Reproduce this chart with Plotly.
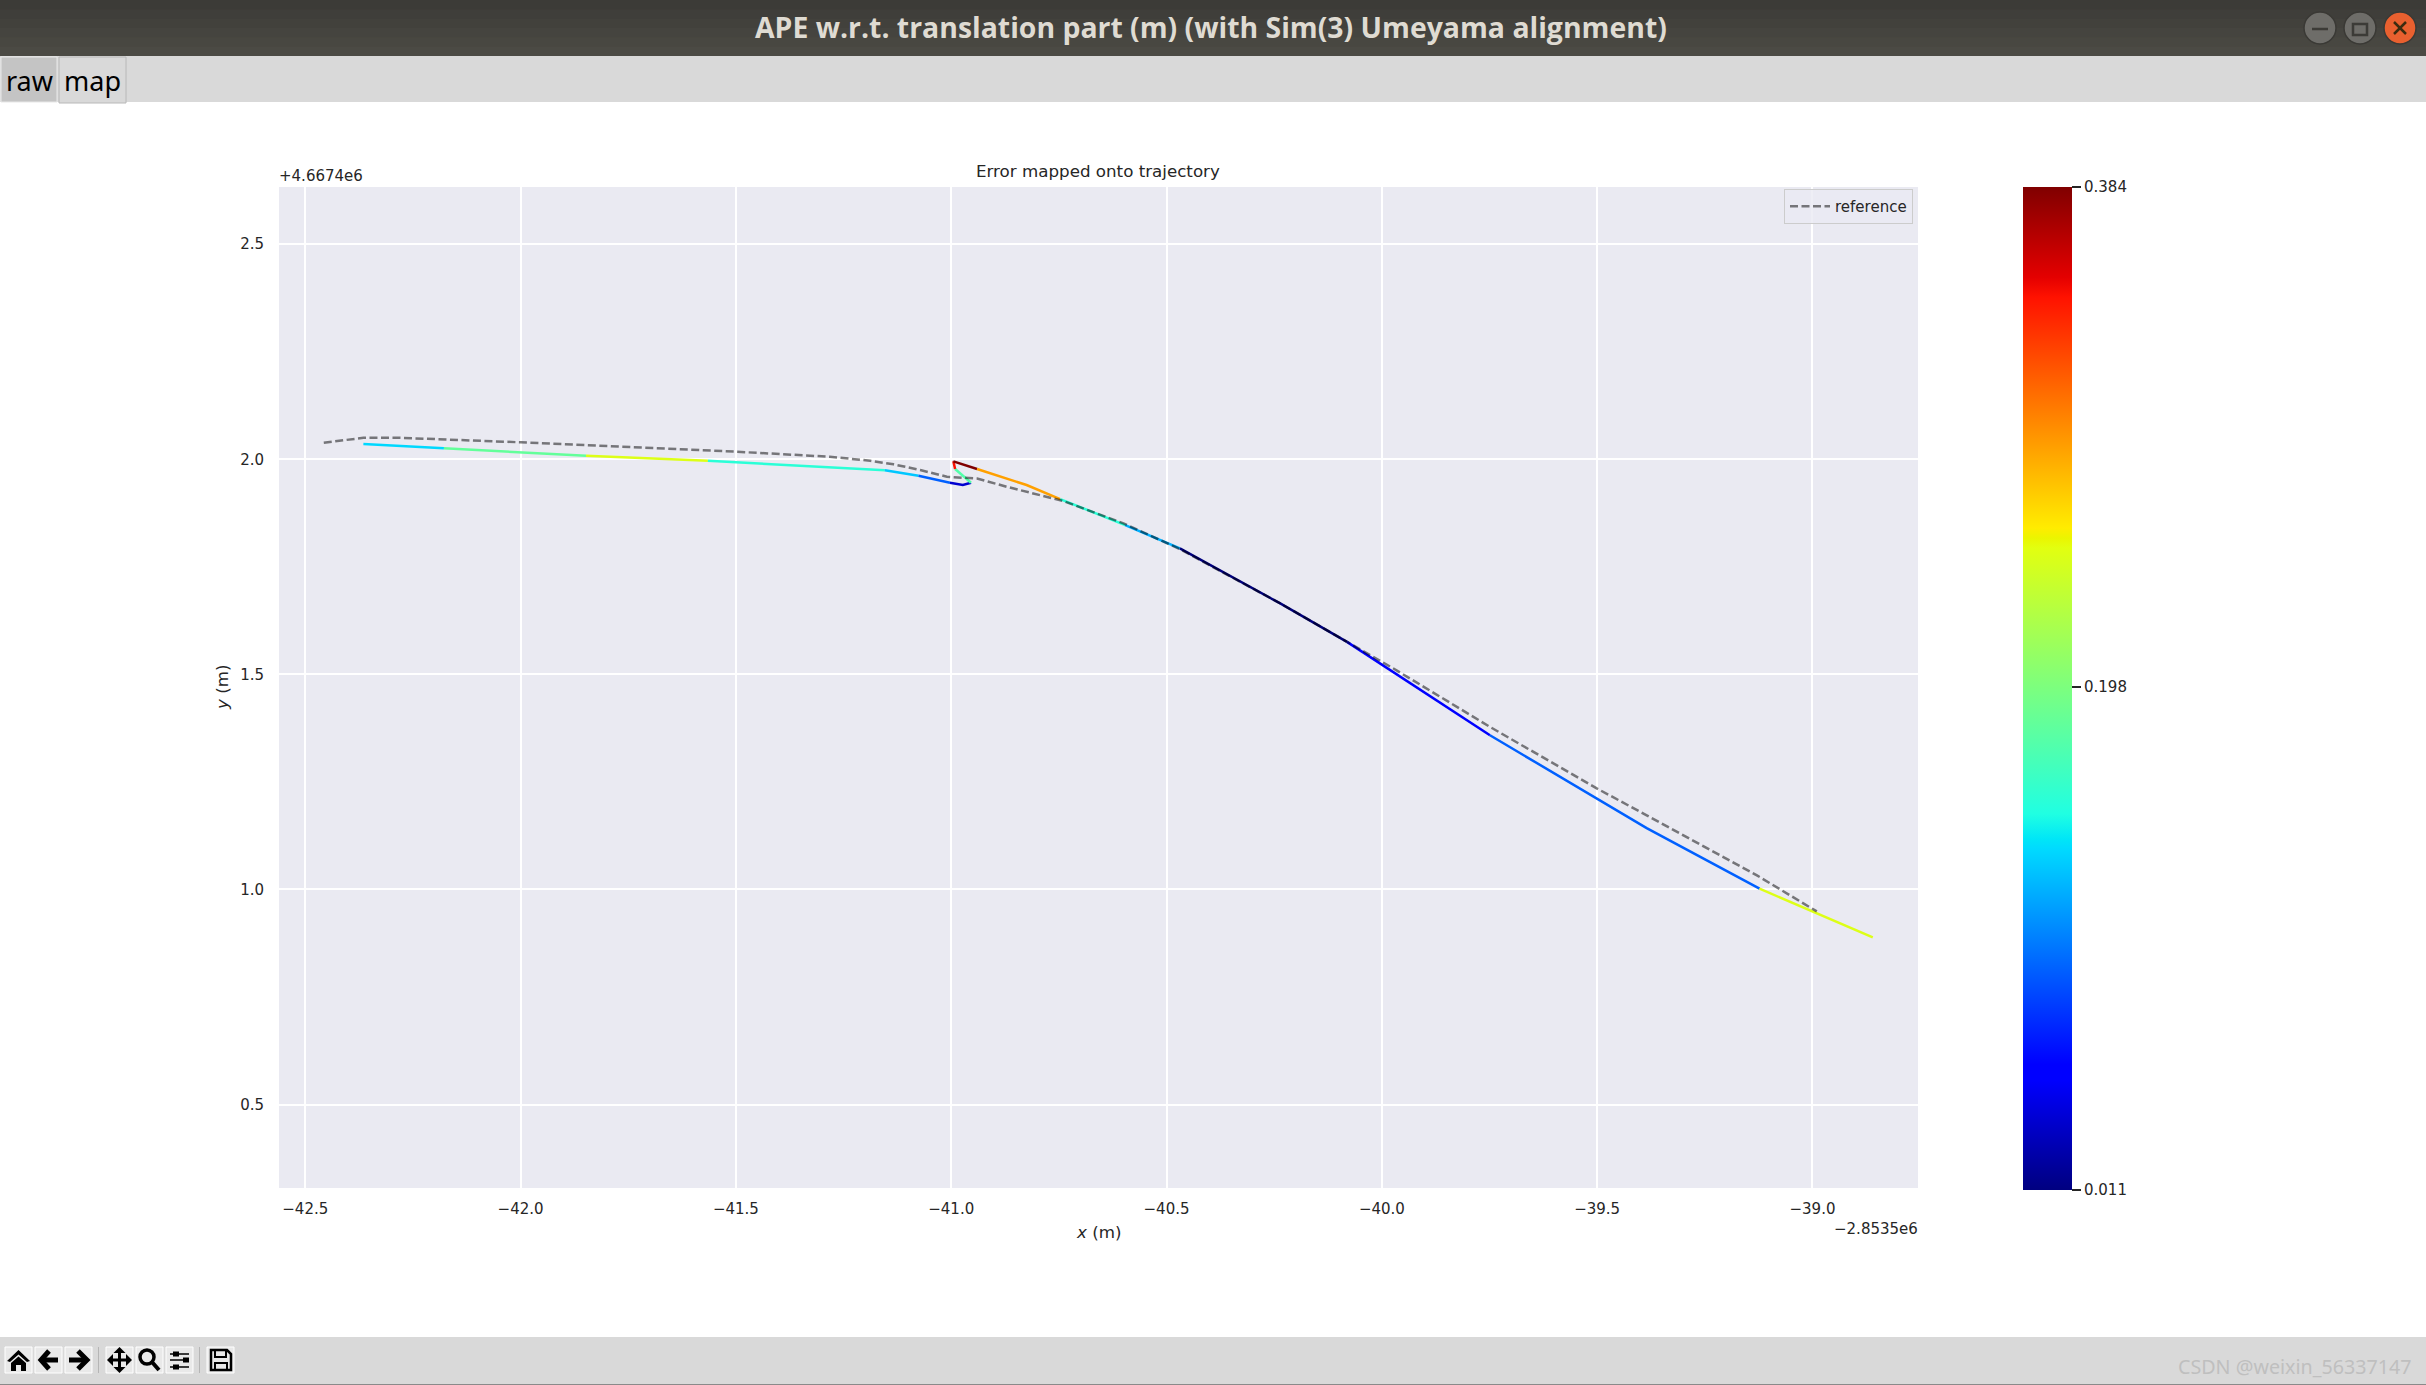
import plotly.graph_objects as go
from plotly.colors import sample_colorscale

W, H = 2426, 1385

# ---- data (axis values, offsets as in the picture) ----
ref_x = [-42.457, -42.365, -42.288, -42.172, -42.0, -41.5, -41.398, -41.282, -41.188, -41.134, -41.072, -41.01,
         -40.97, -40.94, -40.871, -40.74, -40.60, -40.469, -40.236, -40.081, -39.973, -39.749, -39.50,
         -39.385, -39.129, -38.990]
ref_y = [2.0386, 2.050, 2.0503, 2.0465, 2.0395, 2.0177, 2.0123, 2.006, 1.9967, 1.9884, 1.9751, 1.9595,
         1.9570, 1.9553, 1.9362, 1.903, 1.851, 1.7913, 1.665, 1.5756, 1.5137, 1.378, 1.2345,
         1.1724, 1.0328, 0.949]

seg_x = [
    [-42.365, -42.178], [-42.178, -41.848], [-41.848, -41.565],
    [-41.565, -41.398, -41.154], [-41.154, -41.076], [-41.076, -41.003],
    [-41.003, -40.973, -40.954], [-40.954, -40.991], [-40.991, -40.995],
    [-40.995, -40.94], [-40.94, -40.825, -40.747], [-40.747, -40.596],
    [-40.596, -40.469], [-40.469, -40.236, -40.081], [-40.081, -39.749],
    [-39.749, -39.385, -39.123], [-39.123, -38.86],
]
seg_y = [
    [2.0356, 2.0256], [2.0256, 2.0084], [2.0084, 1.9967],
    [1.9967, 1.9874, 1.9744], [1.9744, 1.9618], [1.9618, 1.9456],
    [1.9456, 1.9402, 1.9456], [1.9456, 1.9774], [1.9774, 1.9953],
    [1.9953, 1.9774], [1.9774, 1.9402, 1.9076], [1.9076, 1.8471],
    [1.8471, 1.7929], [1.7929, 1.665, 1.5756], [1.5756, 1.3585],
    [1.3585, 1.1428, 1.0019], [1.0019, 0.8886],
]
seg_err = [0.137, 0.185, 0.247, 0.156, 0.131, 0.093, 0.037, 0.177, 0.344,
           0.384, 0.287, 0.156, 0.122, 0.011, 0.052, 0.093, 0.247]

err_min, err_max = 0.011, 0.384
cbar_ticks = [0.011, 0.198, 0.384]
x_ticks = [-42.5, -42.0, -41.5, -41.0, -40.5, -40.0, -39.5, -39.0]
y_ticks = [0.5, 1.0, 1.5, 2.0, 2.5]

JET = [[0, "rgb(0,0,128)"], [0.11, "rgb(0,0,255)"], [0.125, "rgb(0,0,255)"],
       [0.34, "rgb(0,218,255)"], [0.35, "rgb(0,230,247)"], [0.375, "rgb(32,255,226)"],
       [0.64, "rgb(226,255,16)"], [0.65, "rgb(235,245,0)"], [0.66, "rgb(255,236,0)"],
       [0.89, "rgb(255,18,0)"], [0.91, "rgb(228,0,0)"], [1, "rgb(128,0,0)"]]

TXT = "#262626"
FONT = "DejaVu Sans"

fig = go.Figure()

for xs, ys, e in zip(seg_x, seg_y, seg_err):
    col = sample_colorscale(JET, [(e - err_min) / (err_max - err_min)])[0]
    fig.add_trace(go.Scatter(x=xs, y=ys, mode="lines", showlegend=False, hoverinfo="skip",
                             line=dict(color=col, width=2.5)))

fig.add_trace(go.Scatter(x=ref_x, y=ref_y, mode="lines", name="reference",
                         line=dict(color="rgba(0,0,0,0.5)", width=2.5, dash="8px,3.5px")))

# invisible markers that carry the colour bar
fig.add_trace(go.Scatter(
    x=[s[0] for s in seg_x], y=[s[0] for s in seg_y], mode="markers", showlegend=False,
    hoverinfo="skip",
    marker=dict(size=1, opacity=0, color=seg_err, colorscale=JET, cmin=err_min, cmax=err_max,
                colorbar=dict(x=2022.5 / W, xanchor="left", xref="paper", xpad=0,
                              y=1 - 187 / H, yanchor="top", yref="paper", ypad=0,
                              len=1002.5, lenmode="pixels", thickness=48.5, thicknessmode="pixels",
                              outlinewidth=0, tickmode="array", tickvals=cbar_ticks,
                              ticktext=[f"{v:.3f}" for v in cbar_ticks], ticks="outside",
                              ticklen=9.5, tickwidth=1.5, tickcolor=TXT,
                              tickfont=dict(family=FONT, size=15, color=TXT))),
))


def X(p): return p / W
def Y(p): return 1 - p / H
def path(pts, close=False):
    s = "M" + " L".join(f"{X(a):.5f},{Y(b):.5f}" for a, b in pts)
    return s + (" Z" if close else "")


shapes = []
def rect(x0, y0, x1, y1, fill, line=None, lw=0):
    shapes.append(dict(type="rect", xref="paper", yref="paper", x0=X(x0), x1=X(x1), y0=Y(y0), y1=Y(y1),
                       fillcolor=fill, line=dict(color=line or fill, width=lw), layer="below"))
def poly(pts, fill=None, line="#000000", lw=0, close=True):
    shapes.append(dict(type="path", xref="paper", yref="paper", path=path(pts, close),
                       fillcolor=fill if fill else "rgba(0,0,0,0)", line=dict(color=line, width=lw), layer="above"))
def circ(cx, cy, r, fill, line="rgba(0,0,0,0)", lw=0):
    shapes.append(dict(type="circle", xref="paper", yref="paper", x0=X(cx - r), x1=X(cx + r),
                       y0=Y(cy + r), y1=Y(cy - r), fillcolor=fill, line=dict(color=line, width=lw), layer="above"))

# title bar: bands drawn from the bottom up, each reaching the top, so no seams show
bands = ["#3c3b37", "#3f3e3a", "#42413c", "#45443f", "#484741", "#4b4a44"]
for i in range(len(bands) - 1, -1, -1):
    rect(0, 0, W, (i + 1) * 56 / 6, bands[i])
# window buttons
circ(2320, 28, 16, "#6e6d69", "#3a3935", 1.5)
circ(2360, 28, 16, "#6e6d69", "#3a3935", 1.5)
circ(2400, 28, 16, "#e9602f", "#3a3935", 1.5)
poly([(2312, 29), (2328, 29)], line="#3c3b37", lw=2.5, close=False)
shapes.append(dict(type="rect", xref="paper", yref="paper", x0=X(2353), x1=X(2367), y0=Y(35), y1=Y(24),
                   line=dict(color="#3c3b37", width=2.5), layer="above"))
poly([(2394, 22), (2406, 34)], line="#3c2c10", lw=2.5, close=False)
poly([(2406, 22), (2394, 34)], line="#3c2c10", lw=2.5, close=False)
# tab bar
rect(0, 56, W, 102, "#d9d9d9")
rect(1, 57, 57, 102, "#c4c4c4", "#e8e8e8", 1)
rect(59, 57, 126, 103, "#d9d9d9", "#b8b8b8", 1)
# bottom toolbar
rect(0, 1337, W, 1384, "#d9d9d9")
rect(0, 1384, W, 1385, "#8a8a8a")
for a, b in [(5, 32), (35, 62), (65, 92), (106, 133), (136, 163), (166, 193), (207, 234)]:
    rect(a, 1347, b, 1373, "#e9e9e9", "#ffffff", 1)
rect(98, 1347, 99, 1373, "#b5b5b5")
rect(199, 1347, 200, 1373, "#b5b5b5")
# icons
K = "#000000"
poly([(7, 1361), (18.5, 1350), (30, 1361), (27, 1362), (18.5, 1354.5), (10, 1362)], fill=K)
poly([(11, 1363), (18.5, 1356.5), (26, 1363), (26, 1371), (21, 1371), (21, 1365), (16, 1365), (16, 1371), (11, 1371)], fill=K)
poly([(58, 1360), (43, 1360)], lw=5, close=False)
poly([(49, 1351), (41, 1360), (49, 1369)], lw=5, close=False)
poly([(69, 1360), (85, 1360)], lw=5, close=False)
poly([(78, 1351), (87, 1360), (78, 1369)], lw=5, close=False)
poly([(110, 1360), (129, 1360)], lw=3, close=False)
poly([(119.5, 1350), (119.5, 1370)], lw=3, close=False)
poly([(107, 1360), (113, 1354), (113, 1366)], fill=K)
poly([(132, 1360), (126, 1354), (126, 1366)], fill=K)
poly([(119.5, 1347), (113.5, 1353), (125.5, 1353)], fill=K)
poly([(119.5, 1373), (113.5, 1367), (125.5, 1367)], fill=K)
circ(147, 1357, 7, "rgba(0,0,0,0)", K, 3.5)
poly([(152, 1362), (159, 1370)], lw=4, close=False)
for yy, kx in [(1354, 176), (1360, 186), (1367, 176)]:
    poly([(170, yy), (189, yy)], lw=1.5, close=False)
    rect(kx - 3, yy - 2.5, kx + 3, yy + 2.5, K)
    shapes[-1]["layer"] = "above"
poly([(211, 1350), (227, 1350), (231, 1354), (231, 1370), (211, 1370)], lw=2.5)
poly([(215, 1350), (215, 1357), (226, 1357), (226, 1350)], lw=2, close=False)
poly([(215, 1370), (215, 1363), (227, 1363), (227, 1370)], lw=2, close=False)


def note(x, y, text, size, color=TXT, family=FONT, xanchor="center", yanchor="middle", **kw):
    return dict(x=X(x), y=Y(y), xref="paper", yref="paper", text=text, showarrow=False,
                xanchor=xanchor, yanchor=yanchor, font=dict(family=family, size=size, color=color),
                borderpad=0, **kw)


annotations = [
    note(1211, 27, "<b>APE w.r.t. translation part (m) (with Sim(3) Umeyama alignment)</b>", 28.4,
         color="#dfdbd2", family="Open Sans"),
    note(29, 81, "raw", 27, color="#000000", family="Noto Sans"),
    note(92, 81, "map", 27, color="#000000", family="Noto Sans"),
    note(1098, 171, "Error mapped onto trajectory", 16.7),
    note(278, 176, "+4.6674e6", 15, xanchor="left"),
    note(1919, 1229, "−2.8535e6", 15, xanchor="right"),
    note(1098, 1232, "<i>x</i> (m)", 16.7),
    note(222, 688, "<i>y</i> (m)", 16.7, textangle=-90),
    note(2413, 1366, "CSDN @weixin_56337147", 19.7, color="#bfbfbf", family="Noto Sans", xanchor="right"),
]

axis_common = dict(showgrid=True, gridcolor="#ffffff", gridwidth=1.5, zeroline=False, showline=False,
                   ticks="outside", tickcolor="rgba(0,0,0,0)", tickfont=dict(family=FONT, size=15, color=TXT),
                   automargin=False, tickmode="array")

fig.update_layout(
    width=W, height=H, autosize=False,
    margin=dict(l=0, r=0, t=0, b=0, pad=0),
    paper_bgcolor="#ffffff", plot_bgcolor="#eaeaf2",
    xaxis=dict(domain=[279 / W, 1918 / W], range=[-42.561, -38.755], tickvals=x_ticks,
               ticktext=[f"−{abs(v):.1f}" for v in x_ticks], ticklen=7, **axis_common),
    yaxis=dict(domain=[1 - 1188 / H, 1 - 187 / H], range=[0.3061, 2.633], tickvals=y_ticks,
               ticktext=[f"{v:.1f}" for v in y_ticks], ticklen=11, **axis_common),
    legend=dict(x=1913 / W, xanchor="right", y=1 - 189 / H, yanchor="top", xref="paper", yref="paper",
                bgcolor="rgba(234,234,242,0.8)", bordercolor="#cccccc", borderwidth=1,
                font=dict(family=FONT, size=15, color=TXT), itemwidth=40),
    shapes=shapes, annotations=annotations, showlegend=True,
)

fig.write_html("out.html", post_script="document.body.style.margin='0';document.body.style.overflow='hidden';",
               config={"displayModeBar": False})
